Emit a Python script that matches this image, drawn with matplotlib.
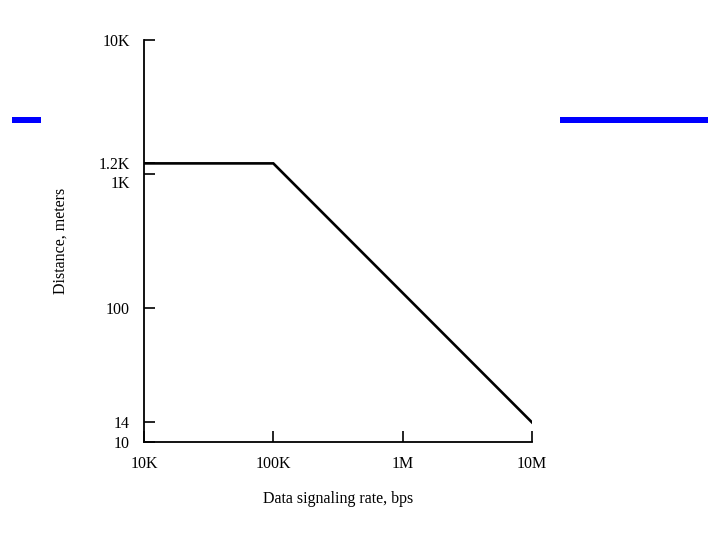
import matplotlib
matplotlib.use("Agg")
import matplotlib.pyplot as plt
import matplotlib.transforms as mtransforms
from matplotlib.patches import Rectangle
from matplotlib.ticker import NullLocator

plt.rcParams['font.family'] = ['Liberation Serif', 'DejaVu Serif']

# data: distance vs data signaling rate
rate = [1e4, 1e5, 1e7]
distance = [1200, 1200, 14]

xticks = [1e4, 1e5, 1e6, 1e7]
xticklabels = ['10K', '100K', '1M', '10M']
yticks = [10, 14, 100, 1000, 1200, 10000]
yticklabels = ['10', '14', '100', '1K', '1.2K', '10K']

fig = plt.figure(figsize=(7.2, 5.4), dpi=100)
ax = fig.add_axes([144 / 720, 1 - 442 / 540, 388 / 720, 402 / 540])

ax.plot(rate, distance, color='black', lw=1.9, solid_joinstyle='miter')

ax.set_xscale('log')
ax.set_yscale('log')
ax.set_xlim(1e4, 1e7)
ax.set_ylim(10, 1e4)

ax.set_xticks(xticks)
ax.set_xticklabels(xticklabels)
ax.set_yticks(yticks)
ax.set_yticklabels(yticklabels)
ax.xaxis.set_minor_locator(NullLocator())
ax.yaxis.set_minor_locator(NullLocator())
ax.tick_params(direction='in', length=8, width=1.2, labelsize=11.5, colors='black')
ax.tick_params(axis='x', pad=10)
ax.tick_params(axis='y', pad=10)

# nudge the 1K label down so it doesn't collide with 1.2K
for lab in ax.get_yticklabels():
    if lab.get_text() == '1K':
        lab.set_transform(lab.get_transform() + mtransforms.ScaledTranslation(0, -6 / 72, fig.dpi_scale_trans))

for s in ['top', 'right']:
    ax.spines[s].set_visible(False)
for s in ['left', 'bottom']:
    ax.spines[s].set_linewidth(1.3)

ax.set_xlabel('Data signaling rate, bps', fontsize=11.5, labelpad=14)
ax.set_ylabel('Distance, meters', fontsize=11.5, labelpad=22)

# blue bars on the slide
fig.add_artist(Rectangle((12 / 720, 1 - 123 / 540), 29 / 720, 6 / 540,
                         transform=fig.transFigure, color='#0000ff', lw=0))
fig.add_artist(Rectangle((560 / 720, 1 - 123 / 540), 148 / 720, 6 / 540,
                         transform=fig.transFigure, color='#0000ff', lw=0))

fig.savefig('out.png', dpi=100)
